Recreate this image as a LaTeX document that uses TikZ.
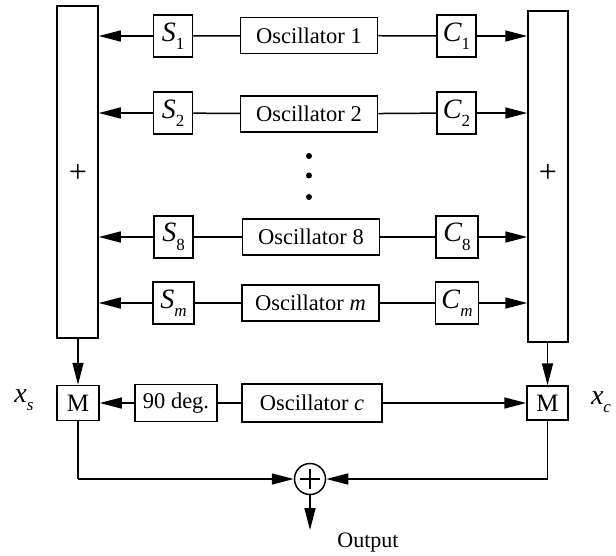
\documentclass[tikz,border=0pt]{standalone}
\usepackage{fontspec}
\setmainfont{Liberation Serif}
\usetikzlibrary{arrows.meta}
\newcommand{\sub}[2]{\textit{#1}\raisebox{-0.3em}{\fontsize{17}{17}\selectfont #2}}
\tikzset{
  blk/.style={draw, line width=1.5pt, inner sep=0pt, font=\fontsize{22.5}{22.5}\selectfont},
  osc/.style={blk, minimum width=137pt, minimum height=36pt},
  sc/.style={blk, minimum width=39pt, minimum height=42pt, font=\fontsize{28}{28}\selectfont},
  mbox/.style={blk, minimum width=42pt, minimum height=35pt, font=\fontsize{25}{25}\selectfont},
  tall/.style={draw, line width=1.5pt, inner sep=0pt},
  ln/.style={line width=1.5pt},
  arr/.style={line width=1.5pt, -{Triangle[length=22pt,width=11pt]}},
}
\begin{document}
\begin{tikzpicture}[x=1pt,y=-1pt]
\useasboundingbox (0,0) rectangle (616,555);
% tall summing boxes
\node[tall, minimum width=41pt, minimum height=332pt] (lsum) at (77.5,172) {};
\node[tall, minimum width=40pt, minimum height=331pt] (rsum) at (548,176.5) {};
\node[font=\fontsize{32}{32}\selectfont] (lplus) at (78,173) {+};
\node[font=\fontsize{32}{32}\selectfont] (rplus) at (548,173) {+};
% rows
\node[osc] (o1) at (309,35.5) {Oscillator 1};
\node[osc] (o2) at (309,114) {Oscillator 2};
\node[osc] (o8) at (311,237) {Oscillator 8};
\node[osc] (om) at (310.5,303) {Oscillator \textit{m}};
\node[sc] (s1) at (173,36) {\sub{S}{1}};
\node[sc] (s2) at (173,113) {\sub{S}{2}};
\node[sc] (s8) at (173.5,237) {\sub{S}{8}};
\node[sc, minimum width=41pt] (sm) at (173.5,303) {\sub{S}{\textit{m}}};
\node[sc] (c1) at (456.5,36) {\sub{C}{1}};
\node[sc] (c2) at (456.5,113) {\sub{C}{2}};
\node[sc, minimum width=42pt] (c8) at (457,237) {\sub{C}{8}};
\node[sc, minimum width=43pt] (cm) at (457,303) {\sub{C}{\textit{m}}};
% dots
\fill (309,156) circle (3pt);
\fill (309,175.5) circle (3pt);
\fill (309,197) circle (3pt);
% row connectors
\foreach \o/\s/\c in {o1/s1/c1, o2/s2/c2, o8/s8/c8, om/sm/cm}{
  \draw[ln] (\o) -- (\s);
  \draw[ln] (\o) -- (\c);
  \draw[arr] (\s) -- (\s -| lsum.east);
  \draw[arr] (\c) -- (\c -| rsum.west);
}
% bottom part
\node[mbox] (ml) at (78,403) {M};
\node[mbox, minimum width=41pt, minimum height=34pt] (mr) at (547.5,403) {M};
\node[blk, minimum width=82pt, minimum height=37pt] (deg) at (176,403) {90 deg.};
\node[blk, minimum width=140pt, minimum height=38pt] (oc) at (312,403) {Oscillator \textit{c}};
\node (xs) at (24,400) {\fontsize{28}{28}\selectfont\textit{x}\raisebox{-0.3em}{\fontsize{17}{17}\selectfont\textit{s}}};
\node (xc) at (601,402) {\fontsize{28}{28}\selectfont\textit{x}\raisebox{-0.3em}{\fontsize{17}{17}\selectfont\textit{c}}};
\draw[arr] (lsum.south -| ml) -- (ml);
\draw[arr] (rsum.south -| mr) -- (mr);
\draw[ln] (oc) -- (deg);
\draw[arr] (deg) -- (ml);
\draw[arr] (oc) -- (mr);
\node[draw, circle, line width=1.5pt, minimum size=31pt, inner sep=0pt] (sum) at (310,479) {};
\draw[line width=1.2pt] (sum.center) ++(-10,0) -- ++(20,0);
\draw[line width=1.2pt] (sum.center) ++(0,-10) -- ++(0,20);
\coordinate (bl) at (ml |- sum);
\coordinate (br) at (mr |- sum);
\coordinate (out) at (310,530);
\draw[ln] (ml) -- (bl);
\draw[arr] (bl) -- (sum);
\draw[ln] (mr) -- (br);
\draw[arr] (br) -- (sum);
\draw[arr] (sum) -- (out);
\node[font=\fontsize{22}{22}\selectfont] (outtxt) at (368,543) {Output};
\end{tikzpicture}
\end{document}
